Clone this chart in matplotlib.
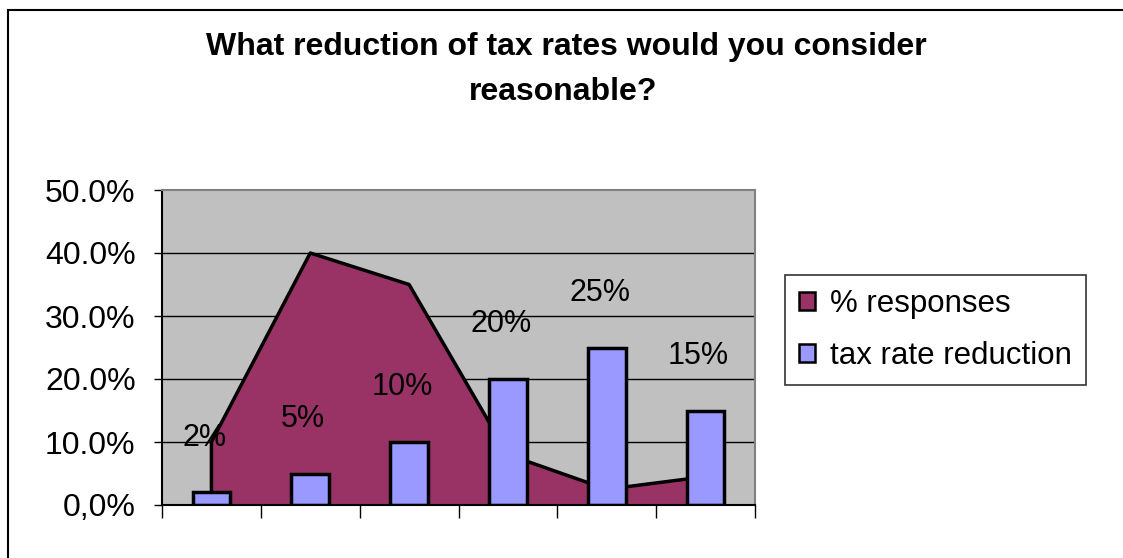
""" Excel-style combo chart: area of responses behind bars of tax rate reduction """

import matplotlib
matplotlib.use('Agg')
import matplotlib.pyplot as plt
from matplotlib.patches import Patch, Rectangle
import numpy as np

plt.rcParams['font.family'] = ['Liberation Sans', 'DejaVu Sans']

# data
categories = ['2%', '5%', '10%', '20%', '25%', '15%']
responses = [0.10, 0.40, 0.35, 0.08, 0.025, 0.045]     # % responses (area)
reduction = [0.02, 0.05, 0.10, 0.20, 0.25, 0.15]       # tax rate reduction (bars)
yticks = [0.0, 0.1, 0.2, 0.3, 0.4, 0.5]
ytick_labels = ['0,0%', '10.0%', '20.0%', '30.0%', '40.0%', '50.0%']

area_col = '#993366'
bar_col = '#9999FF'
plot_bg = '#C0C0C0'

fig = plt.figure(figsize=(11.23, 5.58), dpi=100)
fig.patch.set_facecolor('white')

# outer chart border (only top and left edges fall inside the picture)
fig.add_artist(Rectangle((8/1123, -0.1), 1.2, 1 - 10/558 + 0.1, transform=fig.transFigure,
                         fill=False, edgecolor='black', lw=1.5))

ax = fig.add_axes([162/1123, 1 - 505/558, 593/1123, 315/558])
ax.set_facecolor(plot_bg)

x = np.arange(len(categories)) + 0.5

# area series
ax.fill_between(x, 0, responses, color=area_col, zorder=2, lw=0)
ax.plot(np.r_[x[0], x], np.r_[0, responses], color='black', lw=2.5, zorder=3)

# bar series
ax.bar(x, reduction, width=0.38, color=bar_col, edgecolor='black', lw=2.5, zorder=4)

# bar value labels
for xi, v, lab in zip(x, reduction, categories):
    ax.text(xi - 0.07, v + 0.087, lab, ha='center', va='center', fontsize=22, zorder=5)

ax.set_xlim(0, len(categories))
ax.set_ylim(0, 0.5)
ax.set_yticks(yticks)
ax.set_yticklabels(ytick_labels, fontsize=23)
ax.set_xticks(np.arange(len(categories) + 1))
ax.set_xticklabels([])
ax.tick_params(axis='y', direction='out', length=6, width=1, pad=13)
ax.tick_params(axis='x', direction='out', length=9, width=1)

for y in yticks[1:-1]:
    ax.axhline(y, color='black', lw=1, zorder=1)

ax.spines['left'].set_color('black')
ax.spines['bottom'].set_color('black')
ax.spines['top'].set_color('#808080')
ax.spines['right'].set_color('#808080')
for s in ax.spines.values():
    s.set_linewidth(1.5)
    s.set_zorder(6)

fig.text(566/1123, 1 - 47/558, 'What reduction of tax rates would you consider',
         ha='center', va='center', fontsize=23, fontweight='bold')
fig.text(563/1123, 1 - 92/558, 'reasonable?',
         ha='center', va='center', fontsize=23, fontweight='bold')

handles = [Patch(facecolor=area_col, edgecolor='black', lw=1.8, label='% responses'),
           Patch(facecolor=bar_col, edgecolor='black', lw=1.8, label='tax rate reduction')]
leg = fig.legend(handles=handles, loc='upper left', bbox_to_anchor=(785/1123, 1 - 275/558),
                 fontsize=22.5, frameon=True, fancybox=False, edgecolor='black',
                 handlelength=0.5, handleheight=0.5, handletextpad=0.5,
                 labelspacing=0.7, borderpad=0.45, borderaxespad=0)
leg.get_frame().set_linewidth(1.2)

fig.savefig('out.png', dpi=100)
